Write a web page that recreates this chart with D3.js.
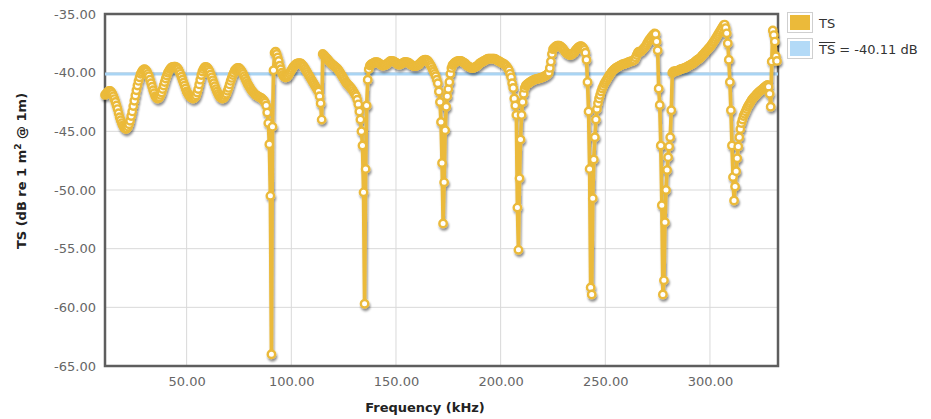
<!DOCTYPE html>
<html>
<head>
<meta charset="utf-8">
<script src="https://cdn.jsdelivr.net/npm/d3@7"></script>
<style>
  body { margin: 0; background: #fff; }
  svg text { font-family: "DejaVu Sans", Verdana, sans-serif; }
</style>
</head>
<body>
<svg id="chart" width="931" height="419"></svg>
<script>
// Target strength spectrum, sampled every 0.5 kHz. Each row covers 10 kHz,
// row r starts at freqStart + 10*r.
const freqStart = 11;
const freqStep = 0.5;
const tsRows = [
  [-41.9,-41.8,-41.7,-41.6,-41.55,-41.55,-41.65,-41.8,-42.0,-42.25,-42.5,-42.8,-43.1,-43.45,-43.8,-44.05,-44.3,-44.5,-44.65,-44.75],
  [-44.8,-44.75,-44.6,-44.4,-44.1,-43.7,-43.3,-42.85,-42.4,-41.95,-41.5,-41.1,-40.7,-40.4,-40.1,-39.95,-39.8,-39.72,-39.7,-39.78],
  [-39.9,-40.1,-40.3,-40.6,-40.9,-41.2,-41.5,-41.75,-42.0,-42.12,-42.2,-42.18,-42.1,-41.9,-41.7,-41.4,-41.1,-40.8,-40.5,-40.25],
  [-40.0,-39.85,-39.7,-39.6,-39.52,-39.5,-39.48,-39.48,-39.52,-39.6,-39.7,-39.9,-40.1,-40.35,-40.6,-40.85,-41.1,-41.35,-41.6,-41.75],
  [-41.9,-42.0,-42.1,-42.15,-42.2,-42.18,-42.1,-41.95,-41.7,-41.4,-41.0,-40.6,-40.2,-39.9,-39.7,-39.55,-39.5,-39.52,-39.6,-39.72],
  [-39.9,-40.15,-40.4,-40.65,-40.9,-41.15,-41.4,-41.6,-41.8,-41.95,-42.1,-42.15,-42.2,-42.18,-42.1,-41.95,-41.8,-41.55,-41.3,-41.0],
  [-40.7,-40.45,-40.2,-40.0,-39.8,-39.7,-39.62,-39.6,-39.6,-39.68,-39.8,-39.95,-40.1,-40.3,-40.5,-40.7,-40.9,-41.05,-41.2,-41.35],
  [-41.5,-41.6,-41.7,-41.8,-41.9,-41.95,-42.0,-42.05,-42.1,-42.15,-42.2,-42.3,-42.4,-42.55,-42.8,-43.4,-44.3,-46.1,-50.5,-64.0],
  [-44.6,-39.8,-38.3,-38.2,-38.4,-38.7,-39.0,-39.4,-39.7,-40.0,-40.2,-40.32,-40.4,-40.4,-40.35,-40.25,-40.1,-39.95,-39.8,-39.65],
  [-39.5,-39.4,-39.3,-39.25,-39.2,-39.18,-39.18,-39.2,-39.28,-39.38,-39.5,-39.65,-39.8,-39.95,-40.1,-40.25,-40.4,-40.55,-40.7,-40.85],
  [-41.0,-41.15,-41.3,-41.45,-41.6,-42.0,-42.6,-44.0,-38.4,-38.5,-38.6,-38.7,-38.8,-38.9,-39.0,-39.1,-39.2,-39.28,-39.35,-39.42],
  [-39.5,-39.58,-39.65,-39.78,-39.9,-40.05,-40.2,-40.35,-40.5,-40.65,-40.8,-40.9,-41.0,-41.1,-41.2,-41.3,-41.4,-41.55,-41.7,-41.85],
  [-42.0,-42.3,-42.7,-43.3,-44.0,-45.0,-46.2,-50.2,-59.7,-48.2,-42.8,-40.6,-39.7,-39.4,-39.3,-39.25,-39.2,-39.15,-39.1,-39.1],
  [-39.1,-39.15,-39.2,-39.28,-39.35,-39.4,-39.4,-39.38,-39.35,-39.28,-39.2,-39.12,-39.05,-39.0,-39.0,-39.02,-39.05,-39.1,-39.15,-39.22],
  [-39.3,-39.32,-39.3,-39.25,-39.2,-39.15,-39.1,-39.08,-39.1,-39.12,-39.15,-39.22,-39.3,-39.35,-39.4,-39.43,-39.45,-39.43,-39.4,-39.35],
  [-39.3,-39.2,-39.1,-39.02,-38.95,-38.92,-38.9,-38.92,-38.95,-39.05,-39.2,-39.35,-39.5,-39.7,-39.9,-40.1,-40.3,-40.6,-40.9,-41.6],
  [-42.5,-44.2,-47.7,-52.85,-49.35,-44.9,-42.9,-42.0,-41.4,-40.8,-40.1,-39.6,-39.35,-39.25,-39.15,-39.1,-39.05,-39.02,-39.0,-39.0],
  [-39.0,-39.05,-39.1,-39.15,-39.2,-39.3,-39.4,-39.45,-39.5,-39.55,-39.6,-39.6,-39.6,-39.55,-39.5,-39.45,-39.4,-39.3,-39.2,-39.15],
  [-39.1,-39.05,-39.0,-38.95,-38.9,-38.85,-38.8,-38.8,-38.8,-38.8,-38.8,-38.8,-38.8,-38.85,-38.9,-38.95,-39.0,-39.05,-39.1,-39.15],
  [-39.2,-39.25,-39.3,-39.4,-39.5,-39.65,-39.8,-40.1,-40.4,-40.9,-41.3,-42.2,-42.8,-43.6,-51.5,-55.1,-49.0,-45.7,-43.6,-42.5],
  [-41.8,-41.3,-41.1,-41.0,-40.95,-40.88,-40.8,-40.75,-40.7,-40.65,-40.6,-40.58,-40.55,-40.52,-40.5,-40.48,-40.45,-40.42,-40.4,-40.35],
  [-40.3,-40.25,-40.2,-40.1,-40.0,-39.6,-39.05,-38.4,-38.0,-37.9,-37.8,-37.75,-37.7,-37.7,-37.7,-37.75,-37.8,-37.9,-38.0,-38.12],
  [-38.25,-38.35,-38.4,-38.45,-38.5,-38.48,-38.45,-38.38,-38.3,-38.18,-38.05,-37.95,-37.85,-37.8,-37.75,-37.75,-37.8,-37.9,-38.05,-38.3],
  [-38.9,-40.8,-43.3,-48.2,-58.3,-58.9,-50.7,-47.4,-45.5,-44.0,-43.1,-42.6,-42.2,-41.9,-41.6,-41.35,-41.15,-40.95,-40.8,-40.65],
  [-40.5,-40.35,-40.2,-40.08,-39.95,-39.85,-39.75,-39.68,-39.6,-39.55,-39.5,-39.45,-39.4,-39.35,-39.3,-39.28,-39.25,-39.22,-39.2,-39.15],
  [-39.1,-39.08,-39.05,-39.02,-39.0,-38.95,-38.9,-38.7,-38.5,-38.3,-38.2,-38.2,-38.2,-38.1,-38.0,-37.9,-37.8,-37.65,-37.5,-37.35],
  [-37.2,-37.08,-36.95,-36.85,-36.75,-36.65,-36.7,-37.35,-38.1,-41.35,-42.75,-46.2,-51.3,-58.9,-57.7,-52.75,-50.0,-48.3,-47.2,-46.3],
  [-45.5,-43.2,-40.0,-39.9,-39.9,-39.88,-39.85,-39.82,-39.8,-39.75,-39.7,-39.68,-39.65,-39.62,-39.6,-39.55,-39.5,-39.45,-39.4,-39.35],
  [-39.3,-39.25,-39.2,-39.12,-39.05,-38.98,-38.9,-38.85,-38.8,-38.7,-38.6,-38.5,-38.4,-38.3,-38.2,-38.1,-38.0,-37.9,-37.8,-37.68],
  [-37.55,-37.42,-37.3,-37.15,-37.0,-36.85,-36.7,-36.55,-36.4,-36.25,-36.1,-35.95,-35.9,-36.2,-36.65,-37.5,-38.9,-40.8,-43.2,-46.2],
  [-48.9,-50.9,-49.7,-48.4,-47.3,-46.3,-45.5,-44.8,-44.3,-44.0,-43.7,-43.5,-43.3,-43.1,-42.9,-42.75,-42.6,-42.45,-42.3,-42.2],
  [-42.1,-42.0,-41.9,-41.8,-41.7,-41.62,-41.55,-41.48,-41.4,-41.32,-41.25,-41.18,-41.1,-41.05,-41.2,-41.8,-42.9,-39.05,-36.4,-36.8],
  [-37.35,-38.6,-39.0]
];
const meanTS = -40.11;
const xTicks = [50, 100, 150, 200, 250, 300];
const yTicks = [-65, -60, -55, -50, -45, -40, -35];
const xDomain = [11, 332.5];
const yDomain = [-65, -35];
const seriesLabel = "TS";
const meanLabelSuffix = " = -40.11 dB";
const xTitle = "Frequency (kHz)";

// Flatten rows into {f, ts} points
const points = [];
tsRows.forEach((row, r) => {
  row.forEach((v, i) => points.push({ f: freqStart + 10 * r + i * freqStep, ts: v }));
});

const svg = d3.select("#chart");
const plot = { left: 105, right: 778, top: 14, bottom: 366 };

const x = d3.scaleLinear().domain(xDomain).range([plot.left, plot.right]);
const y = d3.scaleLinear().domain(yDomain).range([plot.bottom, plot.top]);

const fmt = d3.formatLocale({ decimal: ".", thousands: ",", grouping: [3], currency: ["", ""], minus: "-" }).format(".2f");

const gold = "#EBBA3A";
const meanBlue = "#A9D4F3";

// Drop shadow under the series
const defs = svg.append("defs");
const filt = defs.append("filter").attr("id", "shadow")
  .attr("x", "-5%").attr("y", "-5%").attr("width", "110%").attr("height", "110%");
filt.append("feDropShadow").attr("dx", 1).attr("dy", 2.4)
  .attr("stdDeviation", 1.1).attr("flood-color", "#000").attr("flood-opacity", 0.45);

// Grid
const grid = svg.append("g");
grid.selectAll("line.vx").data(xTicks).join("line")
  .attr("x1", d => x(d)).attr("x2", d => x(d))
  .attr("y1", plot.top).attr("y2", plot.bottom)
  .attr("stroke", "#d9d9d9").attr("stroke-width", 1);
grid.selectAll("line.hy").data(yTicks.slice(1, -1)).join("line")
  .attr("x1", plot.left).attr("x2", plot.right)
  .attr("y1", d => y(d)).attr("y2", d => y(d))
  .attr("stroke", "#d9d9d9").attr("stroke-width", 1);

// Axes (labels only)
const yAxis = svg.append("g").attr("transform", `translate(${plot.left},0)`)
  .call(d3.axisLeft(y).tickValues(yTicks).tickFormat(fmt).tickSize(0).tickPadding(9));
const xAxis = svg.append("g").attr("transform", `translate(0,${plot.bottom})`)
  .call(d3.axisBottom(x).tickValues(xTicks).tickFormat(fmt).tickSize(0).tickPadding(11));
[yAxis, xAxis].forEach(g => {
  g.select(".domain").remove();
  g.selectAll("text").attr("font-size", 13).attr("fill", "#666")
    .attr("font-family", "'DejaVu Sans', Verdana, sans-serif");
});

// Frame
svg.append("rect")
  .attr("x", plot.left).attr("y", plot.top)
  .attr("width", plot.right - plot.left).attr("height", plot.bottom - plot.top)
  .attr("fill", "none").attr("stroke", "#5e5e5e").attr("stroke-width", 2.5);

// Mean line
svg.append("line")
  .attr("x1", plot.left).attr("x2", plot.right)
  .attr("y1", y(meanTS)).attr("y2", y(meanTS))
  .attr("stroke", meanBlue).attr("stroke-width", 3);

// Series line + markers
const series = svg.append("g").attr("filter", "url(#shadow)");
series.append("path").datum(points)
  .attr("d", d3.line().x(d => x(d.f)).y(d => y(d.ts)))
  .attr("fill", "none").attr("stroke", gold).attr("stroke-width", 3.6)
  .attr("stroke-linejoin", "round");
series.selectAll("circle").data(points).join("circle")
  .attr("cx", d => x(d.f)).attr("cy", d => y(d.ts)).attr("r", 3.7)
  .attr("fill", "#fff").attr("stroke", gold).attr("stroke-width", 2.4);

// Axis titles
svg.append("text")
  .attr("x", 425).attr("y", 412)
  .attr("text-anchor", "middle").attr("font-size", 13).attr("font-weight", "bold")
  .attr("fill", "#222").text(xTitle);

const yt = svg.append("text")
  .attr("transform", "translate(26,171) rotate(-90)")
  .attr("text-anchor", "middle").attr("font-size", 13).attr("font-weight", "bold")
  .attr("fill", "#222");
yt.append("tspan").text("TS (dB re 1 m");
yt.append("tspan").attr("font-size", 9).attr("dy", -5).text("2");
yt.append("tspan").attr("dy", 5).text(" @ 1m)");

// Legend
const legend = svg.append("g");
const items = [{ color: gold, y: 12.5 }, { color: "#B3DAF7", y: 38.5 }];
items.forEach(it => {
  legend.append("rect").attr("x", 787.5).attr("y", it.y).attr("width", 25).attr("height", 20)
    .attr("fill", "#fff").attr("stroke", "#cfcfcf").attr("stroke-width", 1);
  legend.append("rect").attr("x", 790).attr("y", it.y + 2.5).attr("width", 20).attr("height", 15)
    .attr("fill", it.color);
});
legend.append("text").attr("x", 819).attr("y", 28).attr("font-size", 13).attr("fill", "#333")
  .text(seriesLabel);
const meanText = legend.append("text").attr("x", 819).attr("y", 54).attr("font-size", 13).attr("fill", "#333");
const tsPart = meanText.append("tspan").text(seriesLabel);
meanText.append("tspan").text(meanLabelSuffix);
const tsWidth = tsPart.node().getComputedTextLength();
legend.append("line")
  .attr("x1", 819).attr("x2", 819 + tsWidth)
  .attr("y1", 42.5).attr("y2", 42.5)
  .attr("stroke", "#333").attr("stroke-width", 1);
</script>
</body>
</html>
